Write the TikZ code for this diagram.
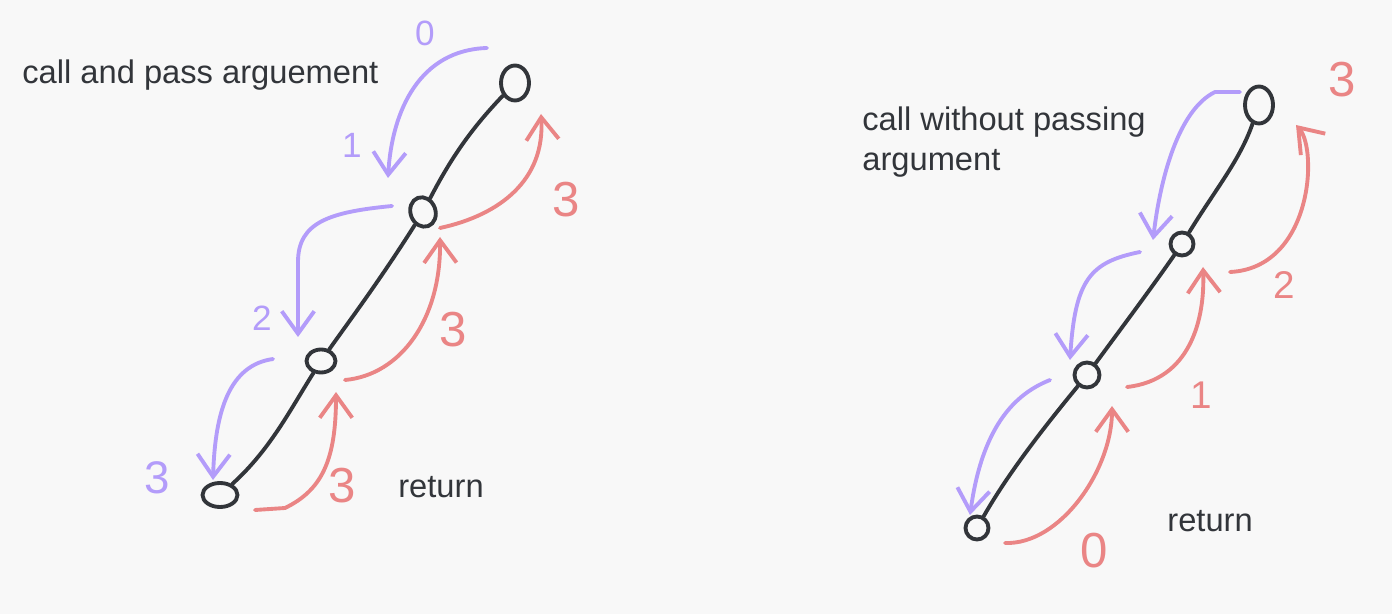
\documentclass[tikz,border=0pt]{standalone}
\usepackage{fontspec}
\setmainfont{Liberation Sans}
\usetikzlibrary{arrows.meta,shapes.geometric}
\definecolor{bgcol}{HTML}{F8F8F8}
\definecolor{inkcol}{HTML}{32353A}
\definecolor{callcol}{HTML}{B39CFA}
\definecolor{retcol}{HTML}{EA8585}
\begin{document}
\begin{tikzpicture}[x=0.02cm, y=-0.02cm, line cap=round, line join=round,
    frame/.style={draw=inkcol, line width=2.2pt, ellipse, inner sep=0pt},
    chain/.style={draw=inkcol, line width=2.2pt},
    callarr/.style={draw=callcol, line width=2.2pt, -{Straight Barb[length=4.5mm, width=6.5mm]}},
    retarr/.style={draw=retcol, line width=2.2pt, -{Straight Barb[length=4.5mm, width=6.5mm]}},
    caption/.style={text=inkcol, font=\fontsize{18.6}{23}\selectfont, align=left, anchor=west, inner sep=0pt},
    callnum/.style={text=callcol, font=\fontsize{20}{24}\selectfont},
    retnum/.style={text=retcol, font=\fontsize{22}{26}\selectfont},
    bignum/.style={text=retcol, font=\fontsize{28}{32}\selectfont}]
    \fill[bgcol] (0,0) rectangle (1392,614);
    \useasboundingbox (0,0) rectangle (1392,614);

    % left: call and pass argument
    \node[frame, minimum width=0.56cm, minimum height=0.7cm] (A) at (515,83) {};
    \node[frame, minimum width=0.5cm, minimum height=0.6cm, rotate=20] (B) at (423,212) {};
    \node[frame, minimum width=0.58cm, minimum height=0.46cm] (C) at (321,361) {};
    \node[frame, minimum width=0.7cm, minimum height=0.48cm] (D) at (220,495) {};

    \draw[chain] (A) .. controls (470,130) and (450,160) .. (B);
    \draw[chain] (B) .. controls (380,280) and (350,320) .. (C);
    \draw[chain] (C) .. controls (290,410) and (270,450) .. (D);

    \coordinate (a0) at (487,48);
    \coordinate (a1) at (392,206);
    \coordinate (a2) at (273,359);
    \coordinate (r0) at (255,510);
    \coordinate (r1) at (345,380);
    \coordinate (r2) at (440,228);

    \draw[callarr] (a0) .. controls (420,50) and (392,110) .. (388,178);
    \draw[callarr] (a1) .. controls (330,212) and (298,222) .. (298,262) -- (298,337);
    \draw[callarr] (a2) .. controls (230,365) and (215,410) .. (213,480);

    \draw[retarr] (r0) -- (285,508) .. controls (322,490) and (336,460) .. (336,392);
    \draw[retarr] (r1) .. controls (400,375) and (441,320) .. (440,237);
    \draw[retarr] (r2) .. controls (500,215) and (545,180) .. (541,114);

    \node[callnum] (l0) at (425,33) {0};
    \node[callnum] (l1) at (352,145) {1};
    \node[callnum] (l2) at (262,318) {2};
    \node[callnum, font=\fontsize{26}{30}\selectfont] (l3) at (157,478) {3};
    \node[bignum] (k3a) at (566,200) {3};
    \node[bignum] (k3b) at (453,330) {3};
    \node[bignum] (k3c) at (342,486) {3};

    \node[caption] (t1) at (22,75) {call and pass arguement};
    \node[caption] (t2) at (398,487) {return};

    % right: call without passing argument
    \node[frame, minimum width=0.56cm, minimum height=0.74cm] (E) at (1259,105) {};
    \node[frame, minimum width=0.46cm, minimum height=0.46cm] (F) at (1182,244) {};
    \node[frame, minimum width=0.5cm, minimum height=0.5cm] (G) at (1087,375) {};
    \node[frame, minimum width=0.46cm, minimum height=0.46cm] (H) at (977,528) {};

    \draw[chain] (E) .. controls (1240,160) and (1215,190) .. (F);
    \draw[chain] (F) .. controls (1150,290) and (1120,330) .. (G);
    \draw[chain] (G) .. controls (1050,420) and (1010,470) .. (H);

    \coordinate (b0) at (1240,92);
    \coordinate (b1) at (1140,252);
    \coordinate (b2) at (1050,380);
    \coordinate (s0) at (1005,543);
    \coordinate (s1) at (1127,387);
    \coordinate (s2) at (1230,272);

    \draw[callarr] (b0) -- (1215,92) .. controls (1178,110) and (1160,180) .. (1153,240);
    \draw[callarr] (b1) .. controls (1090,262) and (1075,280) .. (1070,360);
    \draw[callarr] (b2) .. controls (1020,392) and (983,420) .. (970,515);

    \draw[retarr] (s0) .. controls (1060,545) and (1112,470) .. (1112,406);
    \draw[retarr] (s1) .. controls (1190,380) and (1205,320) .. (1203,267);
    \draw[retarr] (s2) .. controls (1312,268) and (1318,150) .. (1296,125);

    \node[bignum] (m3) at (1342,80) {3};
    \node[retnum] (m2) at (1284,285) {2};
    \node[retnum] (m1) at (1201,395) {1};
    \node[bignum] (m0) at (1094,551) {0};

    \node[caption] (t3) at (862,142) {call without passing\\argument};
    \node[caption] (t4) at (1167,521) {return};
\end{tikzpicture}
\end{document}
